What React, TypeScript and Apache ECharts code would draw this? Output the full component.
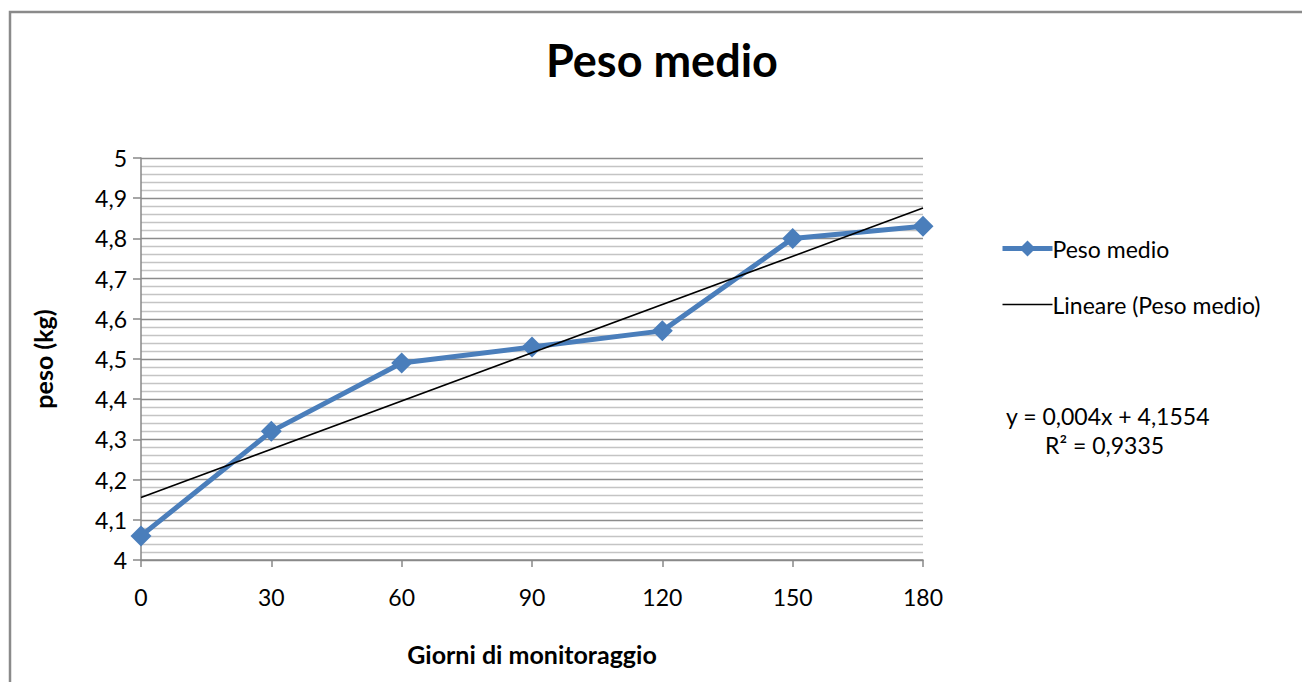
import React, { useEffect, useRef } from "react";
import * as echarts from "echarts";

const days = [0, 30, 60, 90, 120, 150, 180];
const pesoMedio = [4.06, 4.32, 4.49, 4.53, 4.57, 4.8, 4.83];
const trendX = [0, 180];
const trendY = [4.1554, 4.8754];
const equationText = "y = 0,004x + 4,1554";
const r2Text = "R² = 0,9335";

const FONT = "Lato, 'Noto Sans', sans-serif";

export default function App() {
  const ref = useRef<HTMLDivElement>(null);
  useEffect(() => {
    if (!ref.current) return;
    const chart = echarts.init(ref.current, null, { renderer: "svg" });
    const fmt = (v: number) => {
      const r = Math.round(v * 10) / 10;
      return Number.isInteger(r) ? String(r) : r.toFixed(1).replace(".", ",");
    };
    chart.setOption({
      animation: false,
      backgroundColor: "#ffffff",
      textStyle: { fontFamily: FONT },
      title: {
        text: "Peso medio",
        left: 657,
        top: 32,
        textAlign: "center",
        textStyle: { fontSize: 45, fontWeight: "bold", color: "#000", fontFamily: FONT },
      },
      grid: { left: 141, right: 379, top: 158, bottom: 122 },
      legend: {
        orient: "vertical",
        left: 995,
        top: 232,
        itemWidth: 50,
        itemHeight: 20,
        itemGap: 33,
        textStyle: { fontSize: 23, color: "#000", fontFamily: FONT, padding: [0, 0, 0, -5] },
        data: [
          { name: "Peso medio", lineStyle: { width: 5 } },
          { name: "Lineare (Peso medio)", itemStyle: { opacity: 0 }, lineStyle: { width: 1.5 } },
        ],
      },
      xAxis: {
        type: "value",
        min: 0,
        max: 180,
        interval: 30,
        name: "Giorni di monitoraggio",
        nameLocation: "middle",
        nameGap: 81,
        nameTextStyle: { fontSize: 25, fontWeight: "bold", color: "#000", fontFamily: FONT },
        axisLine: { show: true, lineStyle: { color: "#888", width: 1.5 } },
        axisTick: { show: true, inside: false, length: 7, lineStyle: { color: "#888", width: 1.5 } },
        axisLabel: { fontSize: 23, color: "#000", margin: 25, fontFamily: FONT },
        splitLine: { show: false },
      },
      yAxis: {
        type: "value",
        min: 4,
        max: 5,
        interval: 0.1,
        name: "peso (kg)",
        nameLocation: "middle",
        nameGap: 86,
        nameRotate: 90,
        nameTextStyle: { fontSize: 25, fontWeight: "bold", color: "#000", fontFamily: FONT },
        axisLine: { show: true, lineStyle: { color: "#888", width: 1.5 } },
        axisTick: { show: true, length: 8, lineStyle: { color: "#888", width: 1.5 } },
        axisLabel: { fontSize: 23, color: "#000", margin: 14, formatter: fmt, fontFamily: FONT },
        splitLine: { show: true, lineStyle: { color: "#8c8c8c", width: 1.4 } },
        minorTick: { show: false, splitNumber: 5 },
        minorSplitLine: { show: true, lineStyle: { color: "#c4c4c4", width: 1.4 } },
      },
      series: [
        {
          name: "Peso medio",
          type: "line",
          data: days.map((d, i) => [d, pesoMedio[i]]),
          symbol: "diamond",
          symbolSize: 21,
          lineStyle: { color: "#4a7ebb", width: 5 },
          itemStyle: { color: "#4a7ebb" },
          z: 3,
        },
        {
          name: "Lineare (Peso medio)",
          type: "line",
          data: trendX.map((d, i) => [d, trendY[i]]),
          symbol: "none",
          lineStyle: { color: "#000", width: 1.6 },
          itemStyle: { color: "#000" },
          z: 4,
        },
      ],
      graphic: [
        {
          type: "rect",
          shape: { x: 10, y: 12, width: 1400, height: 800 },
          style: { fill: "none", stroke: "#8a8a8a", lineWidth: 2.5 },
          silent: true,
        },
        {
          type: "text",
          left: 1006,
          top: 404,
          style: { text: equationText, fontSize: 23, fill: "#000", fontFamily: FONT },
        },
        {
          type: "text",
          left: 1045,
          top: 433,
          style: { text: r2Text, fontSize: 23, fill: "#000", fontFamily: FONT },
        },
      ],
    });
    return () => chart.dispose();
  }, []);
  return (
    <div
      ref={ref}
      style={{ position: "absolute", left: 0, top: 0, width: 1302, height: 682 }}
    />
  );
}
